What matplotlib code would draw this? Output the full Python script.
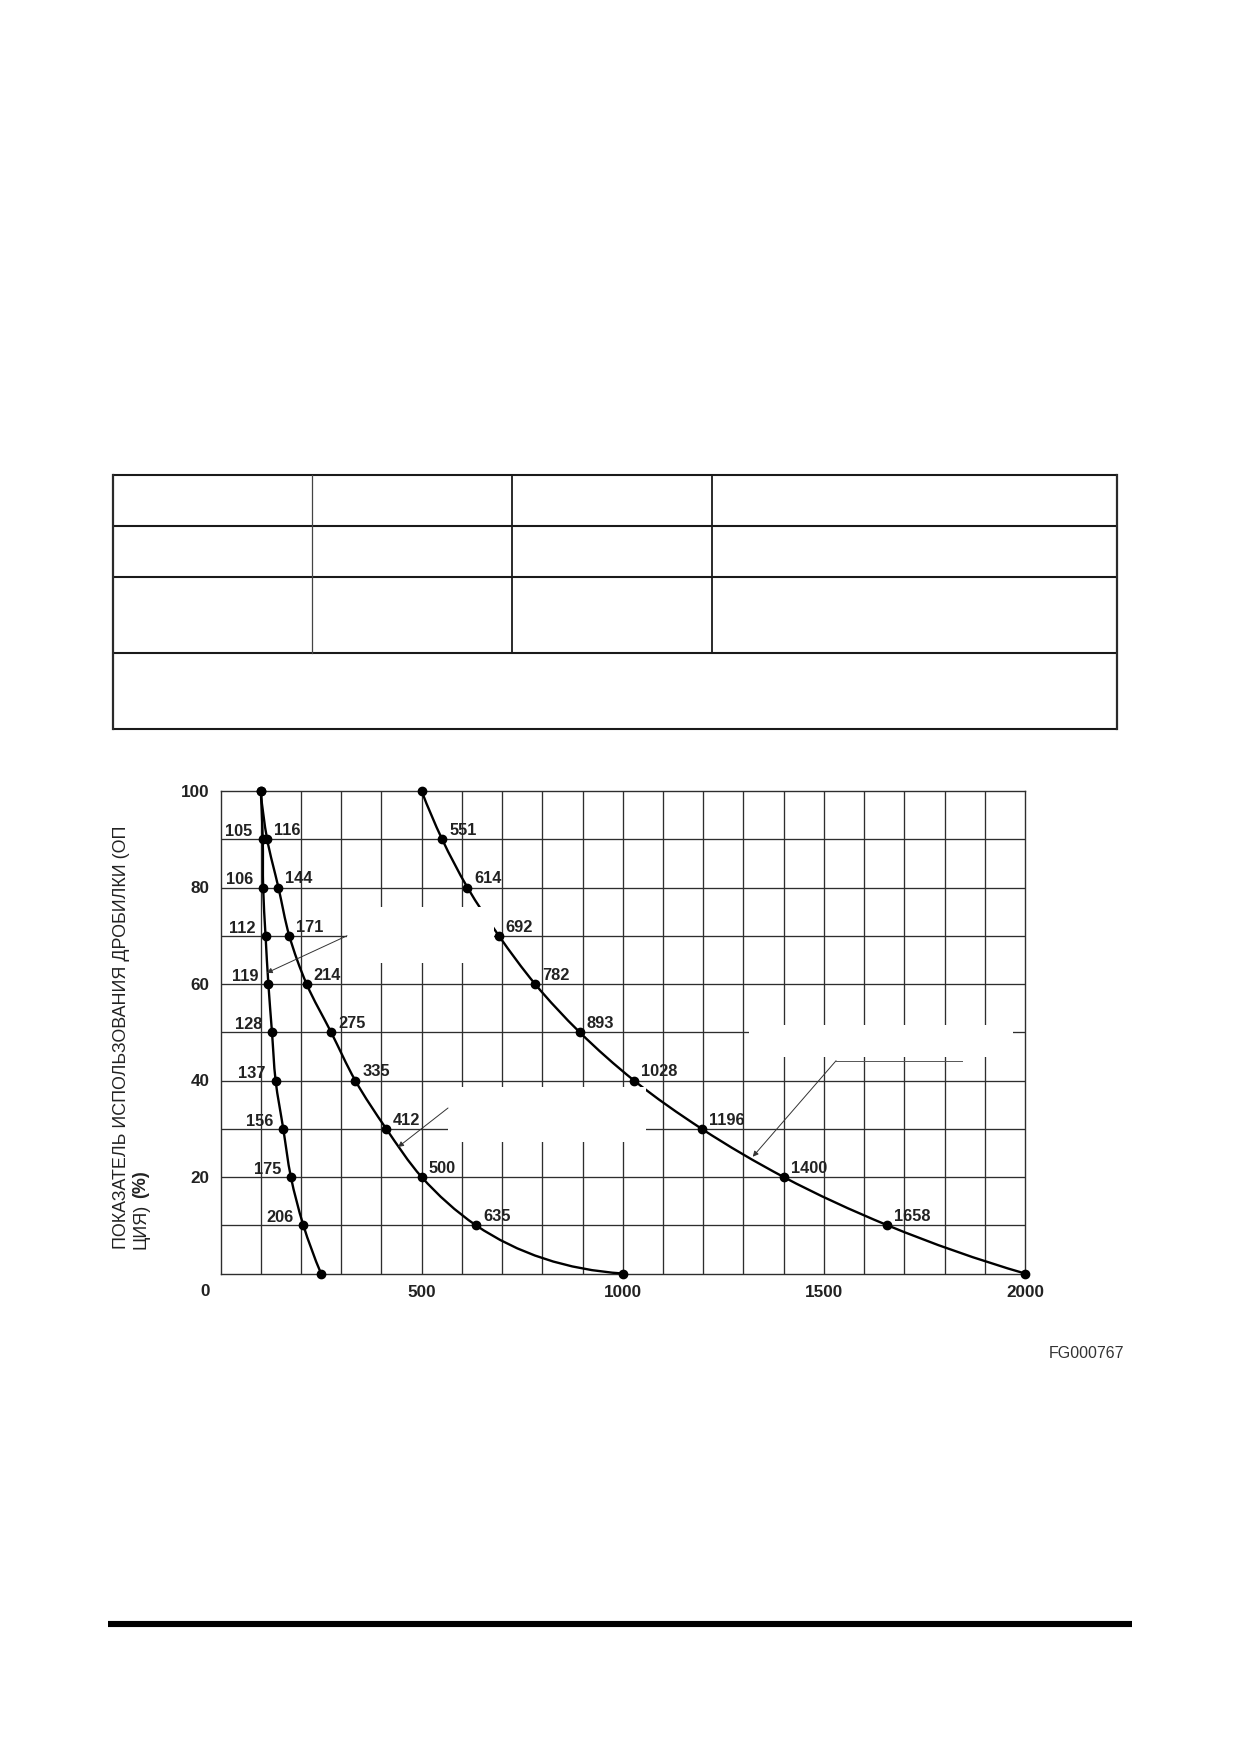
import matplotlib
matplotlib.use("Agg")
import numpy as np
import matplotlib.pyplot as plt
from matplotlib.patches import Rectangle, PathPatch
from matplotlib.path import Path

plt.rcParams['font.family'] = ['Liberation Sans', 'DejaVu Sans']

# --- данные графика ---
util = [100, 90, 80, 70, 60, 50, 40, 30, 20, 10, 0]          # показатель использования, %
curve_a = [100, 105, 106, 112, 119, 128, 137, 156, 175, 206, 250]
curve_b = [100, 116, 144, 171, 214, 275, 335, 412, 500, 635, 1000]
curve_c = [500, 551, 614, 692, 782, 893, 1028, 1196, 1400, 1658, 2000]

x_ticks = [500, 1000, 1500, 2000]
y_ticks = [20, 40, 60, 80, 100]
ylabel_1 = "ПОКАЗАТЕЛЬ ИСПОЛЬЗОВАНИЯ ДРОБИЛКИ (ОП"
ylabel_2a = "ЦИЯ)"
ylabel_2b = "(%)"
fig_code = "FG000767"

W, H = 1240, 1754
fig = plt.figure(figsize=(W / 100, H / 100), dpi=100)

# --- страница: таблица и нижняя линия (в пикселях) ---
page = fig.add_axes([0, 0, 1, 1], zorder=0)
page.set_xlim(0, W)
page.set_ylim(H, 0)
page.axis('off')

tl, tr = 112.5, 1117
rows = [475, 526, 577, 653, 729]
cols = [312, 512, 712]
for y in rows:
    page.plot([tl, tr], [y, y], color='#1a1a1a', lw=1.5, solid_capstyle='butt')
page.plot([tl, tl], [rows[0], rows[-1]], color='#2a2a2a', lw=1.6)
page.plot([tr, tr], [rows[0], rows[-1]], color='#2a2a2a', lw=1.6)
for i, x in enumerate(cols):
    page.plot([x, x], [rows[0], rows[3]], color='#444444' if i == 0 else '#1a1a1a',
              lw=0.9 if i == 0 else 1.3)

page.plot([108, 1132], [1624, 1624], color='black', lw=4.4, solid_capstyle='butt')
page.text(1124, 1353, fig_code, ha='right', va='center', fontsize=11.5, color='#333333')

# --- основной график ---
ax = fig.add_axes([220.5 / W, 1 - 1273.5 / H, 804.5 / W, 482.5 / H], zorder=1)
ax.set_xlim(0, 2000)
ax.set_ylim(0, 100)

grid_col = '#2e2e2e'
for gx in range(100, 2000, 100):
    ax.axvline(gx, color=grid_col, lw=0.95, zorder=1)
for gy in range(10, 100, 10):
    ax.axhline(gy, color=grid_col, lw=0.95, zorder=1)
for s in ax.spines.values():
    s.set_color(grid_col)
    s.set_linewidth(1.0)

ax.set_xticks(x_ticks)
ax.set_yticks(y_ticks)
ax.tick_params(length=0, labelsize=12.3, colors='#222222')
ax.tick_params(axis='x', pad=8.5)
ax.tick_params(axis='y', pad=8)
for lab in ax.get_xticklabels() + ax.get_yticklabels():
    lab.set_fontweight('bold')
ax.text(-38.5, -3.7, "0", transform=ax.transData, ha='center', va='center',
        fontsize=12.3, fontweight='bold', color='#222222', clip_on=False)

# масштаб осей в пикселях (для гладкой кривой)
SX = 804.5 / 2000
SY = 482.5 / 100


def smooth_path(xs, ys):
    # сплайн Безье через точки (касательные Бесселя по длине хорды)
    p = np.column_stack([np.array(xs) * SX, np.array(ys) * SY])
    n = len(p)
    d = np.linalg.norm(np.diff(p, axis=0), axis=1)
    u = np.diff(p, axis=0) / d[:, None]
    m = np.zeros_like(p)
    for i in range(1, n - 1):
        m[i] = (d[i] * u[i - 1] + d[i - 1] * u[i]) / (d[i - 1] + d[i])
    m[0] = 2 * u[0] - m[1]
    m[-1] = 2 * u[-1] - m[-2]
    verts = [p[0]]
    codes = [Path.MOVETO]
    for i in range(n - 1):
        verts += [p[i] + m[i] * d[i] / 3, p[i + 1] - m[i + 1] * d[i] / 3, p[i + 1]]
        codes += [Path.CURVE4] * 3
    verts = np.array(verts) / [SX, SY]
    return Path(verts, codes)


for xs in (curve_a, curve_b, curve_c):
    ax.add_patch(PathPatch(smooth_path(xs, util), facecolor='none', edgecolor='black',
                           lw=1.7, zorder=3, clip_on=False))
    ax.plot(xs, util, linestyle='none', color='black', marker='o', markersize=6,
            zorder=3, clip_on=False)

# подписи точек: кривая A слева, B и C справа
for xs, side in ((curve_a, 'left'), (curve_b, 'right'), (curve_c, 'right')):
    for xv, yv in zip(xs[1:-1], util[1:-1]):
        if side == 'left':
            ax.annotate(str(xv), (xv, yv), xytext=(-10, 3), textcoords='offset pixels',
                        ha='right', va='baseline', fontsize=11.8, fontweight='bold',
                        color='#222222', zorder=4)
        else:
            ax.annotate(str(xv), (xv, yv), xytext=(7, 4), textcoords='offset pixels',
                        ha='left', va='baseline', fontsize=11.8, fontweight='bold',
                        color='#222222', zorder=4)

# белые области (стертые подписи)
for (x0, x1, y0, y1) in [(314.5, 680.0, 64.4, 76.0),
                         (565.6, 1058.9, 27.25, 38.65),
                         (1313.6, 1969.7, 44.87, 51.5)]:
    ax.add_patch(Rectangle((x0, y0), x1 - x0, y1 - y0, facecolor='white',
                           edgecolor='none', zorder=5))

# выносные линии со стрелками
arrow = dict(arrowstyle='-|>', lw=0.7, color='#333333', mutation_scale=8,
             shrinkA=0, shrinkB=0)
ax.annotate('', xy=(114.9, 62.3), xytext=(314.5, 70.0), arrowprops=arrow, zorder=6)
ax.annotate('', xy=(441.3, 26.2), xytext=(565.6, 34.3), arrowprops=arrow, zorder=6)
ax.plot([1530.3, 1843], [44.1, 44.1], color='#555555', lw=0.7, zorder=6)
ax.annotate('', xy=(1323.2, 24.2), xytext=(1530.3, 44.1), arrowprops=arrow, zorder=6)

# подпись оси Y в две строки
fig.text(121 / W, 1 - 1249 / H, ylabel_1, rotation=90, rotation_mode='anchor',
         ha='left', va='center', fontsize=12.9, color='#222222')
t2 = fig.text(141 / W, 1 - 1249 / H, ylabel_2a, rotation=90, rotation_mode='anchor',
              ha='left', va='center', fontsize=12.9, color='#222222')
bb = t2.get_window_extent(renderer=fig.canvas.get_renderer())
fig.text(141 / W, (bb.y1 + 6) / H, ylabel_2b, rotation=90, rotation_mode='anchor',
         ha='left', va='center', fontsize=12.9, fontweight='bold', color='#222222')

fig.savefig("out.png", dpi=100, facecolor='white')
